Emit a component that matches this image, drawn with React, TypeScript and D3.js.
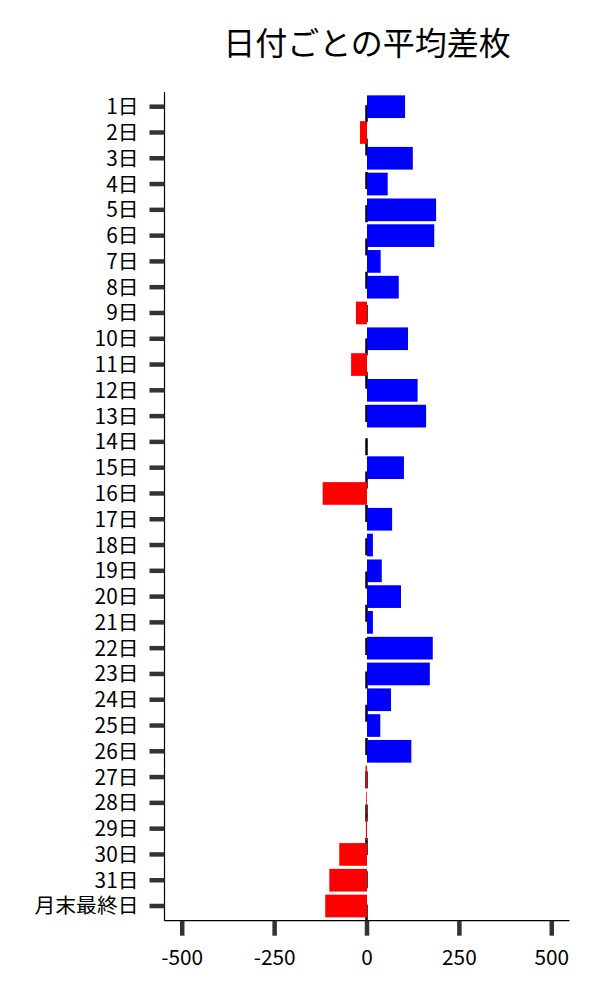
import React from "react";
import * as d3 from "d3";

// average difference per day of month
const days = [
  "1日", "2日", "3日", "4日", "5日", "6日", "7日", "8日", "9日", "10日",
  "11日", "12日", "13日", "14日", "15日", "16日", "17日", "18日", "19日", "20日",
  "21日", "22日", "23日", "24日", "25日", "26日", "27日", "28日", "29日", "30日",
  "31日", "月末最終日",
];
const values = [
  103, -19, 124, 56, 187, 182, 37, 86, -30, 111,
  -43, 137, 160, 0, 100, -120, 68, 16, 40, 92,
  16, 178, 170, 65, 36, 120, -4, -2, -3, -75,
  -102, -113,
];
const xTicks = [-500, -250, 0, 250, 500];
const title = "日付ごとの平均差枚";

const W = 600;
const H = 1000;
const margin = { top: 92, right: 30.5, bottom: 79.3, left: 164.5 };
const FONT = "'Noto Sans CJK JP', 'Noto Sans', sans-serif";

export default function App() {
  const x = d3
    .scaleLinear()
    .domain([-548, 548])
    .range([margin.left, W - margin.right]);
  const y = d3
    .scaleBand()
    .domain(days)
    .range([margin.top, H - margin.bottom])
    .paddingInner(0.12)
    .paddingOuter(0.13);

  const x0 = x(0);
  const plotTop = margin.top;
  const plotBottom = H - margin.bottom;

  return (
    <svg
      width={W}
      height={H}
      style={{ position: "absolute", left: 0, top: 0, background: "#fff" }}
      fontFamily={FONT}
    >
      {/* title */}
      <text x={(margin.left + W - margin.right) / 2} y={55} fontSize={32} textAnchor="middle" fill="#000">
        {title}
      </text>

      {/* zero line, behind bars */}
      <line
        x1={x0 - 0.5}
        x2={x0 - 0.5}
        y1={plotTop}
        y2={plotBottom}
        stroke="#000"
        strokeWidth={2.5}
        strokeDasharray="17,16.3"
        strokeDashoffset={20}
      />

      {/* bars */}
      {days.map((d, i) => {
        const v = values[i];
        return (
          <rect
            key={d}
            x={Math.min(x(v), x0)}
            y={y(d)}
            width={Math.abs(x(v) - x0)}
            height={y.bandwidth()}
            fill={v >= 0 ? "#0000ff" : "#ff0000"}
          />
        );
      })}

      {/* spines */}
      <line x1={margin.left} x2={margin.left} y1={plotTop} y2={plotBottom} stroke="#000" strokeWidth={1.2} />
      <line x1={margin.left} x2={W - margin.right} y1={plotBottom} y2={plotBottom} stroke="#000" strokeWidth={1.2} />

      {/* y axis */}
      {days.map((d) => {
        const cy = (y(d) as number) + y.bandwidth() / 2;
        return (
          <g key={"yt" + d}>
            <line x1={margin.left - 15} x2={margin.left} y1={cy} y2={cy} stroke="#333" strokeWidth={4.5} />
            <text x={margin.left - 26} y={cy} dy="0.36em" fontSize={20.8} textAnchor="end" fill="#000">
              {d}
            </text>
          </g>
        );
      })}

      {/* x axis */}
      {xTicks.map((t) => (
        <g key={"xt" + t}>
          <line x1={x(t)} x2={x(t)} y1={plotBottom} y2={plotBottom + 15} stroke="#333" strokeWidth={4.5} />
          <text x={x(t)} y={plotBottom + 44} fontSize={20.8} textAnchor="middle" fill="#000">
            {String(t)}
          </text>
        </g>
      ))}
    </svg>
  );
}
